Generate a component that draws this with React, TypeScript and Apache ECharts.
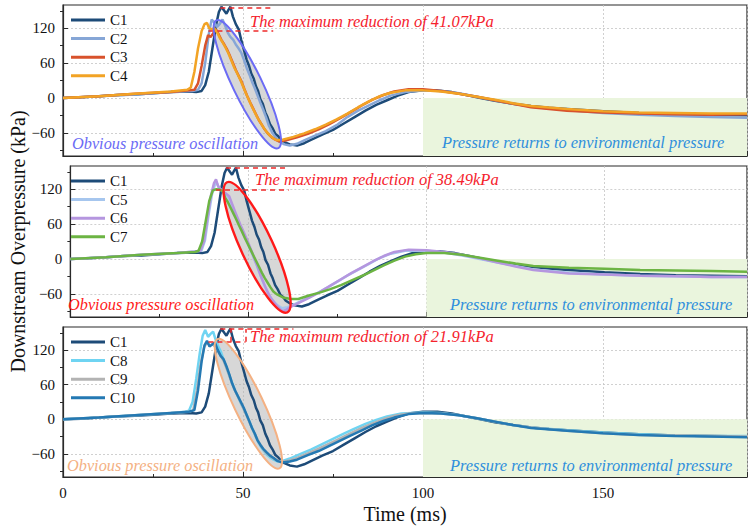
import React, { useEffect, useRef } from 'react';
import * as echarts from 'echarts';

type Pt = [number, number];

// ---- axis values ----
const timeRange = [0, 190];
const timeTicks = [0, 50, 100, 150];
const pressureRange = [-100, 160];
const pressureTicks = [-60, 0, 60, 120];
const pressureMinorTicks = [-90, -30, 30, 90, 150];

// ---- measured overpressure curves (time ms, kPa) ----
const c1: Pt[] = [
  [0, 0], [5, 1], [10, 3], [15, 5], [20, 6], [25, 8], [30, 10], [35, 11], [37, 10], [38.5, 12],
  [39.5, 22], [40.5, 45], [41.5, 85], [42.5, 125], [43.3, 148], [44, 157], [44.8, 150], [45.4, 145],
  [46, 152], [46.5, 157], [47.2, 140], [48, 127], [48.8, 118], [49.5, 100], [50.3, 82], [51, 66],
  [51.7, 55], [52.3, 42], [53, 33], [53.6, 20], [54.2, 12], [54.8, -2], [55.5, -10], [56.2, -25],
  [56.8, -33], [57.5, -45], [58.2, -52], [59, -62], [59.8, -66], [60.5, -72], [61.5, -76], [63, -80],
  [65, -82], [67, -78], [69, -72], [72, -63], [75, -55], [78, -44], [81, -33], [84, -22], [87, -12],
  [90, -4], [93, 4], [96, 10], [100, 13], [104, 13], [108, 10], [112, 5], [116, 0], [120, -5],
  [125, -10], [130, -14], [135, -17], [140, -19], [150, -23], [160, -26], [170, -28], [180, -29], [190, -30],
];
const c2: Pt[] = [
  [0, 0], [10, 3], [20, 6], [30, 10], [36, 12], [37.5, 14], [38.5, 25], [39.5, 60], [40.5, 110],
  [41.3, 135], [42, 130], [42.8, 122], [43.6, 128], [44.3, 135], [45, 125], [45.8, 112], [46.5, 105],
  [47.3, 100], [48, 92], [48.8, 85], [49.5, 78], [50.3, 65], [51, 52], [51.8, 40], [52.5, 28], [53.2, 18],
  [54, 5], [54.8, -8], [55.6, -20], [56.4, -33], [57.2, -48], [58, -58], [59, -68], [60, -75], [61.5, -80],
  [63, -82], [65, -79], [67, -73], [70, -65], [73, -57], [76, -47], [79, -33], [82, -22], [85, -13],
  [88, -4], [91, 4], [95, 10], [100, 13], [105, 12], [110, 8], [115, 2], [120, -4], [125, -10],
  [130, -15], [140, -21], [150, -26], [160, -29], [170, -31], [180, -33], [190, -34],
];
const c3: Pt[] = [
  [0, 0], [10, 3], [20, 7], [30, 10], [35, 13], [36.5, 14], [37.5, 25], [38.5, 55], [39.5, 90],
  [40.3, 108], [41, 105], [41.8, 112], [42.5, 118], [43.2, 110], [44, 100], [44.8, 92], [45.6, 83],
  [46.4, 72], [47.2, 60], [48, 48], [48.8, 38], [49.6, 28], [50.4, 15], [51.2, 3], [52, -8], [52.8, -18],
  [53.6, -28], [54.4, -38], [55.2, -46], [56, -54], [57, -62], [58, -68], [59, -72], [60, -75], [62, -73],
  [65, -68], [68, -62], [71, -54], [74, -45], [77, -35], [80, -24], [83, -13], [86, -3], [89, 5],
  [92, 11], [96, 15], [100, 15], [105, 12], [110, 7], [115, 2], [120, -4], [125, -10], [130, -16],
  [140, -22], [150, -25], [160, -27], [170, -28], [180, -29], [190, -28],
];
const c4: Pt[] = [
  [0, 0], [10, 3], [20, 7], [30, 11], [34.5, 14], [35.5, 18], [36.5, 45], [37.5, 85], [38.5, 115],
  [39.3, 127], [40, 129], [40.6, 120], [41.3, 118], [42, 120], [42.8, 113], [43.6, 103], [44.4, 95],
  [45.2, 86], [46, 76], [46.8, 64], [47.6, 52], [48.4, 42], [49.2, 32], [50, 20], [50.8, 8], [51.6, -3],
  [52.4, -14], [53.2, -24], [54, -34], [54.8, -42], [55.6, -50], [56.5, -58], [57.5, -65], [58.5, -70],
  [59.5, -73], [61, -72], [64, -67], [67, -61], [70, -54], [73, -46], [76, -37], [79, -27], [82, -16],
  [85, -6], [88, 3], [91, 9], [95, 13], [100, 13], [105, 11], [110, 7], [115, 2], [120, -3], [125, -9],
  [130, -14], [140, -19], [150, -23], [160, -25], [170, -26], [180, -27], [190, -27],
];
const c5: Pt[] = [
  [0, 0], [10, 3], [20, 7], [30, 10], [35, 13], [36.8, 14], [37.8, 32], [38.8, 75], [39.8, 112],
  [40.6, 128], [41.2, 130], [41.8, 122], [42.6, 117], [43.4, 113], [44.2, 108], [45, 97], [45.8, 85],
  [46.6, 73], [47.4, 61], [48.2, 50], [49, 39], [49.8, 27], [50.6, 15], [51.4, 3], [52.2, -9],
  [53, -22], [53.8, -35], [54.6, -47], [55.4, -57], [56.2, -66], [57.2, -74], [58.2, -80], [59.5, -85],
  [61, -83], [63, -78], [66, -69], [69, -60], [72, -50], [75, -39], [78, -28], [81, -18], [84, -8],
  [87, 2], [90, 9], [94, 14], [100, 14], [105, 11], [110, 6], [115, 0], [120, -6], [125, -12],
  [130, -18], [140, -24], [150, -27], [160, -29], [170, -30], [180, -31], [190, -31],
];
const c6: Pt[] = [
  [0, 0], [10, 3], [20, 7], [30, 10], [35, 13], [36.5, 14], [37.5, 30], [38.5, 70], [39.5, 110],
  [40.3, 130], [40.9, 137], [41.5, 125], [42.2, 120], [43, 115], [43.8, 112], [44.6, 108], [45.4, 95],
  [46.2, 82], [47, 70], [47.8, 58], [48.6, 47], [49.4, 36], [50.2, 24], [51, 12], [51.8, -2], [52.6, -14],
  [53.4, -28], [54.2, -40], [55, -52], [55.8, -62], [56.6, -70], [57.5, -77], [58.5, -84], [59.5, -90],
  [60.5, -88], [62, -82], [64, -76], [67, -67], [70, -57], [73, -46], [76, -35], [79, -24], [82, -14],
  [85, -4], [88, 5], [91, 12], [95, 16], [100, 15], [105, 12], [110, 7], [115, 1], [120, -6], [125, -13],
  [130, -19], [140, -25], [150, -27], [160, -29], [170, -30], [180, -31], [190, -31],
];
const c7: Pt[] = [
  [0, 0], [10, 3], [20, 7], [30, 10], [35, 12], [36, 14], [37, 30], [38, 65], [39, 100], [40, 118],
  [41, 120], [42, 119], [42.8, 117], [43.5, 105], [44.2, 98], [45, 88], [45.8, 78], [46.6, 68],
  [47.4, 57], [48.2, 47], [49, 36], [49.8, 26], [50.6, 16], [51.4, 6], [52.2, -4], [53, -14], [53.8, -24],
  [54.6, -33], [55.4, -41], [56.2, -49], [57, -56], [58, -61], [59, -64], [60, -67], [62, -69], [64, -69],
  [67, -63], [70, -58], [73, -52], [76, -45], [79, -37], [82, -29], [85, -20], [88, -11], [91, -3],
  [94, 4], [97, 8], [100, 10], [105, 10], [110, 7], [115, 2], [120, -3], [125, -8], [130, -12],
  [140, -15], [150, -17], [160, -19], [170, -20], [180, -21], [190, -22],
];
const c8: Pt[] = [
  [0, 0], [10, 3], [20, 7], [30, 11], [34, 13], [35, 15], [36, 30], [37, 70], [38, 115], [38.8, 145],
  [39.5, 155], [40.3, 143], [41, 148], [41.7, 152], [42.3, 140], [43, 128], [43.8, 118], [44.6, 104],
  [45.4, 90], [46.2, 76], [47, 63], [47.8, 50], [48.6, 39], [49.4, 28], [50.2, 18], [51, 8], [51.8, -4],
  [52.6, -16], [53.4, -28], [54.2, -39], [55, -48], [55.8, -55], [56.6, -61], [57.5, -66], [58.5, -70],
  [59.5, -73], [61, -72], [63, -68], [66, -60], [69, -52], [72, -43], [75, -34], [78, -25], [81, -16],
  [84, -8], [87, -1], [90, 5], [94, 10], [100, 12], [105, 11], [110, 7], [115, 2], [120, -4], [125, -10],
  [130, -14], [140, -19], [150, -23], [160, -26], [170, -28], [180, -29], [190, -29],
];
const c9: Pt[] = [
  [0, 0], [10, 3], [20, 7], [30, 11], [35, 13], [36.2, 16], [37.2, 50], [38.2, 95], [39.2, 125],
  [40, 133], [40.8, 128], [41.6, 130], [42.4, 125], [43.2, 116], [44, 108], [44.8, 99], [45.6, 86],
  [46.4, 72], [47.2, 58], [48, 47], [48.8, 37], [49.6, 26], [50.4, 15], [51.2, 4], [52, -8], [52.8, -19],
  [53.6, -30], [54.4, -40], [55.2, -48], [56, -55], [57, -61], [58, -66], [59, -70], [60.5, -74],
  [62.5, -72], [65, -67], [68, -59], [71, -51], [74, -42], [77, -33], [80, -24], [83, -15], [86, -7],
  [89, 0], [92, 6], [96, 10], [100, 11], [105, 10], [110, 7], [115, 2], [120, -4], [125, -10],
  [130, -14], [140, -20], [150, -24], [160, -27], [170, -28], [180, -29], [190, -30],
];
const c10: Pt[] = [
  [0, 0], [10, 3], [20, 7], [30, 11], [35, 13], [36.5, 16], [37.5, 50], [38.5, 100], [39.3, 128],
  [40, 136], [40.7, 126], [41.5, 130], [42.2, 133], [43, 120], [43.8, 110], [44.6, 104], [45.4, 92],
  [46.2, 78], [47, 62], [47.8, 50], [48.6, 40], [49.4, 30], [50.2, 20], [51, 8], [51.8, -4], [52.5, -15],
  [53.3, -25], [54, -36], [54.8, -44], [55.6, -51], [56.5, -57], [57.5, -63], [58.5, -67], [59.5, -72],
  [61, -75], [63, -73], [65, -70], [68, -62], [71, -55], [74, -46], [77, -37], [80, -28], [83, -19],
  [86, -10], [89, -3], [92, 3], [96, 9], [100, 11], [105, 10], [110, 7], [115, 2], [120, -4], [125, -10],
  [130, -15], [140, -20], [150, -24], [160, -27], [170, -29], [180, -30], [190, -31],
];

const curves: Record<string, Pt[]> = { C1: c1, C2: c2, C3: c3, C4: c4, C5: c5, C6: c6, C7: c7, C8: c8, C9: c9, C10: c10 };
const curveColors: Record<string, string> = {
  C1: '#1d4b78', C2: '#86a6d6', C3: '#d8522c', C4: '#f2a325', C5: '#a6c6ee',
  C6: '#b596df', C7: '#6cb443', C8: '#6fd4f2', C9: '#b3b3b3', C10: '#2479b3',
};
const panelCurves = [
  ['C1', 'C2', 'C3', 'C4'],
  ['C1', 'C5', 'C6', 'C7'],
  ['C1', 'C8', 'C9', 'C10'],
];

// ---- annotations (data units) ----
const peakPressure = [156, 157.5, 156.5];
const maxReduction = [41.07, 38.49, 21.91];
const peakLineSpan = [[43.7, 58.4], [43.7, 61.3], [43.7, 64]];
const reducedLineSpan = [[40.4, 58.4], [40.9, 61.3], [40.4, 50.7]];
const bracketTimes = [[], [], [46.5, 50.7]];
const recoveryStart = 100;
const oscillationAxis: [Pt, Pt][] = [
  [[42.6, 133.7], [59.8, -86.6]],
  [[44.0, 132], [60.9, -92]],
  [[42.9, 139], [60.1, -85]],
];
const oscillationHalfWidth = [14.5, 16, 14.5];
const oscillationColors = ['#6b6bf5', '#ff1a1a', '#f4b183'];

// ---- layout ----
const FONT = 'Liberation Serif, Times New Roman, serif';
const gridLeft = 63;
const gridWidth = 684;
const gridTops = [5, 166, 327];
const gridHeights = [151, 151, 150];

function buildOption() {
  const grid = gridTops.map((top, i) => ({
    left: gridLeft, top, width: gridWidth, height: gridHeights[i],
    show: true, borderColor: '#2a2a2a', borderWidth: 1.2, backgroundColor: 'transparent',
  }));

  const splitStyle = { show: true, lineStyle: { color: '#c4c4c4', width: 0.8, type: [2, 2] } };

  const xAxis = gridTops.map((_, i) => ({
    type: 'value', gridIndex: i, min: timeRange[0], max: timeRange[1], interval: 50,
    axisLine: { show: true, onZero: false, lineStyle: { color: '#2a2a2a', width: 1.2 } },
    axisTick: { show: true, inside: true, length: 5, lineStyle: { color: '#2a2a2a' } },
    minorTick: { show: true, splitNumber: 2, length: 3, lineStyle: { color: '#2a2a2a' } },
    axisLabel: {
      show: i === 2, customValues: timeTicks,
      color: '#111', fontSize: 15, fontFamily: FONT, margin: 8,
    },
    splitLine: splitStyle,
    name: i === 2 ? 'Time (ms)' : '',
    nameLocation: 'middle', nameGap: 27,
    nameTextStyle: { fontSize: 20, fontFamily: FONT, color: '#111' },
  }));

  const yMain = gridTops.map((_, i) => ({
    type: 'value', gridIndex: i, min: pressureRange[0], max: pressureRange[1],
    axisLine: { show: true, onZero: false, lineStyle: { color: '#2a2a2a', width: 1.2 } },
    axisTick: { show: true, inside: true, length: 5, customValues: pressureTicks, lineStyle: { color: '#2a2a2a' } },
    axisLabel: {
      show: true, customValues: pressureTicks, color: '#111', fontSize: 15, fontFamily: FONT, margin: 8,
      formatter: (v: number) => (v < 0 ? '\u2212' + Math.abs(v) : String(v)),
    },
    splitLine: splitStyle,
    name: i === 1 ? 'Downstream Overpressure (kPa)' : '',
    nameLocation: 'middle', nameGap: 39,
    nameTextStyle: { fontSize: 20, fontFamily: FONT, color: '#111' },
  }));
  const yMinor = gridTops.map((_, i) => ({
    type: 'value', gridIndex: i, min: pressureRange[0], max: pressureRange[1],
    axisLine: { show: false },
    axisTick: { show: true, inside: true, length: 3, customValues: pressureMinorTicks, lineStyle: { color: '#2a2a2a' } },
    axisLabel: { show: false, customValues: pressureMinorTicks },
    splitLine: { show: false },
  }));

  const series: any[] = [];
  panelCurves.forEach((names, i) => {
    const peak = peakPressure[i];
    const reduced = +(peak - maxReduction[i]).toFixed(2);
    const dashed = { color: '#ee2a2a', width: 1.5, type: [5, 4] };
    const lines: any[] = [
      [{ coord: [peakLineSpan[i][0], peak] }, { coord: [peakLineSpan[i][1], peak] }],
      [{ coord: [reducedLineSpan[i][0], reduced] }, { coord: [reducedLineSpan[i][1], reduced] }],
      ...bracketTimes[i].map((t) => [{ coord: [t, reduced] }, { coord: [t, peak] }]),
    ];
    series.push({
      type: 'line', name: 'recovery-' + i, xAxisIndex: i, yAxisIndex: i, data: [], silent: true,
      markArea: {
        silent: true, itemStyle: { color: '#eaf5dd' },
        data: [[{ coord: [recoveryStart, pressureRange[0]] }, { coord: [timeRange[1], 0] }]],
      },
    });
    names.forEach((n) => {
      series.push({
        type: 'line', name: n, xAxisIndex: i, yAxisIndex: i, data: curves[n],
        showSymbol: false, symbol: 'none', clip: true,
        lineStyle: { color: curveColors[n], width: 2.5 }, itemStyle: { color: curveColors[n] },
        z: 3,
      });
    });
    series.push({
      type: 'line', name: 'reduction-' + i, xAxisIndex: i, yAxisIndex: i, data: [], silent: true, z: 6,
      markLine: { silent: true, symbol: 'none', label: { show: false }, lineStyle: dashed, data: lines },
    });
  });

  const legend = panelCurves.map((names, i) => ({
    data: names, orient: 'vertical', left: 71, top: gridTops[i] + 7.5, padding: 0,
    itemWidth: 34, itemHeight: 3, itemGap: 3.6, icon: 'rect',
    textStyle: { fontSize: 15, fontFamily: FONT, color: '#111', lineHeight: 15 },
    selectedMode: false,
  }));

  return {
    animation: false,
    backgroundColor: '#ffffff',
    textStyle: { fontFamily: FONT },
    grid, xAxis, yAxis: [...yMain, ...yMinor], series, legend,
  };
}

function annotationTexts() {
  const items: any[] = [];
  const maxPos = [[250, 21.7], [255, 179], [250, 336.7]];
  const oscPos = [[72, 143], [68, 304], [67, 465]];
  const envPos = [[442, 142], [450, 304], [450, 465]];
  const italic = (size: number) => ({ fontStyle: 'italic', fontSize: size, fontFamily: FONT });
  for (let i = 0; i < 3; i++) {
    items.push({
      type: 'text', x: maxPos[i][0], y: maxPos[i][1], z: 20,
      style: { text: `The maximum reduction of ${maxReduction[i].toFixed(2)}kPa`, fill: '#f5222d', verticalAlign: 'middle', ...italic(16.5) },
    });
    items.push({
      type: 'text', x: oscPos[i][0], y: oscPos[i][1], z: 20,
      style: { text: 'Obvious pressure oscillation', fill: oscillationColors[i], verticalAlign: 'middle', ...italic(16.3) },
    });
    items.push({
      type: 'text', x: envPos[i][0], y: envPos[i][1], z: 20,
      style: { text: 'Pressure returns to environmental pressure', fill: '#2f8fdc', verticalAlign: 'middle', ...italic(16.4) },
    });
  }
  return items;
}

export default function App() {
  const ref = useRef<HTMLDivElement>(null);
  useEffect(() => {
    if (!ref.current) return;
    const chart = echarts.init(ref.current, null, { renderer: 'svg' });
    chart.setOption(buildOption());

    const shapes: any[] = [];
    oscillationAxis.forEach(([a, b], i) => {
      const p1 = chart.convertToPixel({ gridIndex: i }, a) as number[];
      const p2 = chart.convertToPixel({ gridIndex: i }, b) as number[];
      const cx = (p1[0] + p2[0]) / 2;
      const cy = (p1[1] + p2[1]) / 2;
      const rx = Math.hypot(p2[0] - p1[0], p2[1] - p1[1]) / 2;
      const rotation = -Math.atan2(p2[1] - p1[1], p2[0] - p1[0]);
      const shape = { cx: 0, cy: 0, rx, ry: oscillationHalfWidth[i] };
      shapes.push({
        type: 'ellipse', x: cx, y: cy, rotation, shape, z: 1, silent: true,
        style: { fill: 'rgba(175,175,175,0.5)', stroke: 'none' },
      });
      shapes.push({
        type: 'ellipse', x: cx, y: cy, rotation, shape, z: 15, silent: true,
        style: { fill: 'none', stroke: oscillationColors[i], lineWidth: i === 1 ? 2.4 : 2 },
      });
    });
    chart.setOption({ graphic: [...shapes, ...annotationTexts()] });
    return () => chart.dispose();
  }, []);
  return <div ref={ref} style={{ position: 'absolute', left: 0, top: 0, width: 750, height: 528 }} />;
}
